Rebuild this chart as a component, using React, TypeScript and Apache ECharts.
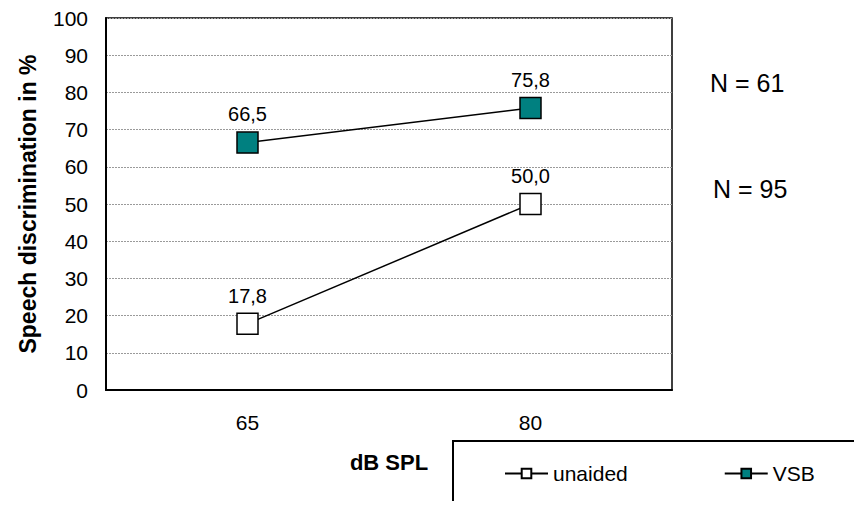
import React, { useEffect, useRef } from "react";
import * as echarts from "echarts";

const categories = ["65", "80"];
const unaided = [17.8, 50.0];
const vsb = [66.5, 75.8];
const nLabels = ["N = 61", "N = 95"];

const FONT = "Arial, 'Liberation Sans', Helvetica, sans-serif";

export default function App() {
  const ref = useRef<HTMLDivElement>(null);
  useEffect(() => {
    if (!ref.current) return;
    const chart = echarts.init(ref.current, undefined, { renderer: "svg" });
    const labelFmt = (p: any) => Number(p.value).toFixed(1).replace(".", ",");
    chart.setOption({
      animation: false,
      backgroundColor: "#ffffff",
      textStyle: { fontFamily: FONT, color: "#000" },
      grid: {
        left: 106,
        top: 18,
        right: 190,
        bottom: 119,
        show: true,
        borderColor: "#000",
        borderWidth: 1.5,
        containLabel: false,
      },
      xAxis: {
        type: "category",
        data: categories,
        boundaryGap: true,
        axisLine: { lineStyle: { color: "#000", width: 2 } },
        axisTick: { show: false },
        axisLabel: { fontSize: 21, color: "#000", margin: 22, fontFamily: FONT },
        name: "dB SPL",
        nameLocation: "middle",
        nameGap: 61,
        nameTextStyle: { fontSize: 22, fontWeight: "bold", color: "#000", fontFamily: FONT },
      },
      yAxis: {
        type: "value",
        min: 0,
        max: 100,
        interval: 10,
        axisLine: { show: true, lineStyle: { color: "#000", width: 2 } },
        axisTick: { show: false },
        axisLabel: { fontSize: 21, color: "#000", margin: 18, fontFamily: FONT },
        splitLine: { lineStyle: { color: "#9a9a9a", width: 1, type: [2, 1] } },
        name: "Speech discrimination in %",
        nameLocation: "middle",
        nameGap: 67,
        nameTextStyle: { fontSize: 23, fontWeight: "bold", color: "#000", fontFamily: FONT },
      },
      legend: {
        left: 499,
        top: 458,
        itemWidth: 43,
        itemHeight: 12,
        itemGap: 96,
        textStyle: { fontSize: 21, color: "#000", fontFamily: FONT },
        data: ["unaided", "VSB"],
      },
      series: [
        {
          name: "unaided",
          type: "line",
          data: unaided,
          symbol: "rect",
          symbolSize: 21,
          lineStyle: { color: "#000", width: 1.5 },
          itemStyle: { color: "#ffffff", borderColor: "#000", borderWidth: 1.5 },
          label: { show: true, position: "top", distance: 7, fontSize: 20, color: "#000", formatter: labelFmt, fontFamily: FONT },
        },
        {
          name: "VSB",
          type: "line",
          data: vsb,
          symbol: "rect",
          symbolSize: 21,
          lineStyle: { color: "#000", width: 1.5 },
          itemStyle: { color: "#008080", borderColor: "#000", borderWidth: 1.5 },
          label: { show: true, position: "top", distance: 7, fontSize: 20, color: "#000", formatter: labelFmt, fontFamily: FONT },
        },
      ],
      graphic: [
        {
          type: "rect",
          shape: { x: 453, y: 441, width: 404, height: 90 },
          style: { fill: "none", stroke: "#000", lineWidth: 2 },
          z: 0,
        },
        {
          type: "text",
          x: 710,
          y: 83,
          style: { text: nLabels[0], fontSize: 25, fill: "#000", fontFamily: FONT, verticalAlign: "middle" },
        },
        {
          type: "text",
          x: 713,
          y: 189,
          style: { text: nLabels[1], fontSize: 25, fill: "#000", fontFamily: FONT, verticalAlign: "middle" },
        },
      ],
    });
    return () => chart.dispose();
  }, []);
  return <div ref={ref} style={{ width: 862, height: 509, margin: -8 }} />;
}
